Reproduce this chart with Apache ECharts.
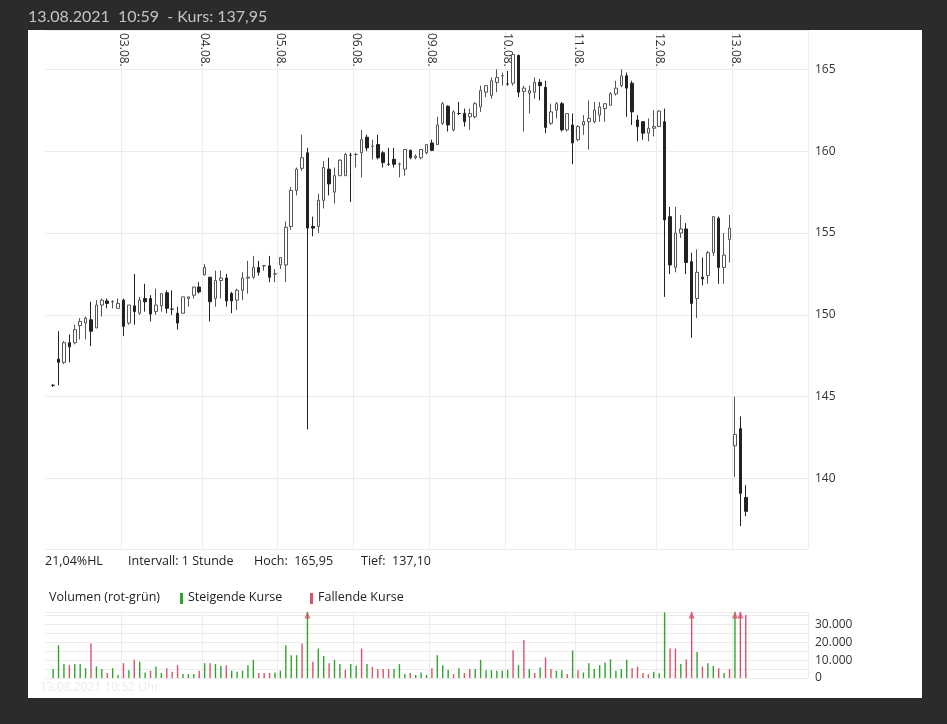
<!DOCTYPE html>
<html>
<head>
<meta charset="utf-8">
<script src="https://cdn.jsdelivr.net/npm/echarts@6/dist/echarts.min.js"></script>
<style>
  html, body { margin: 0; padding: 0; background: #2b2b2b; }
  #chart { width: 947px; height: 724px; }
</style>
</head>
<body>
<div id="chart"></div>
<script>
// Stundenkerzen [open, close, low, high], 02.08. – 13.08.2021
const candles = [
  [145.7,145.7,145.6,145.75],[147.3,147.1,145.7,149.0],[147.1,148.3,147.0,148.4],[148.3,148.05,147.1,148.8],
  [148.3,149.1,148.2,149.4],[149.35,149.6,148.5,149.8],[149.5,149.8,148.5,149.9],[149.7,149.0,148.1,150.8],
  [149.2,150.6,149.2,150.9],[150.6,150.9,149.9,151.0],[150.85,150.7,150.4,151.0],[150.8,150.8,150.4,150.9],
  [150.4,150.7,150.4,151.0],
  // 03.08.
  [150.9,149.3,148.7,151.0],[149.5,150.6,149.4,150.6],[150.55,150.2,149.4,152.5],[150.1,150.9,150.0,151.1],
  [151.0,150.8,150.2,151.9],[151.0,150.05,149.6,151.2],[150.2,150.6,150.0,151.6],[150.55,151.3,150.2,151.3],
  [151.35,150.4,150.1,151.5],[150.35,150.35,150.0,151.5],[150.1,149.5,149.1,150.5],[150.1,151.1,150.1,151.1],
  [151.0,151.1,150.5,151.1],[151.2,151.7,151.0,151.7],[151.7,151.4,151.3,152.0],
  // 04.08.
  [152.45,152.9,152.4,153.1],[152.3,150.8,149.6,152.3],[151.0,152.1,150.5,152.7],[152.1,152.25,151.0,152.7],
  [152.25,150.85,150.5,152.5],[151.3,150.85,150.1,151.4],[150.9,151.5,150.3,151.6],[151.5,152.25,150.9,152.6],
  [152.25,152.3,151.3,153.3],[152.3,152.9,152.2,153.6],[152.9,152.6,152.4,153.3],[153.0,153.0,152.7,153.05],
  [153.0,152.3,152.0,153.6],[152.5,152.5,152.0,152.8],
  // 05.08.
  [153.05,153.5,152.8,153.5],[153.05,155.35,152.0,155.7],[155.4,157.6,155.2,157.8],[157.6,158.9,157.3,159.0],
  [158.95,159.6,158.8,161.0],[159.9,155.3,143.0,160.2],[155.4,155.3,154.8,156.0],[155.4,157.0,155.0,157.4],
  [157.0,159.0,156.5,159.4],[158.9,158.0,157.3,159.6],[157.5,158.5,156.8,159.0],[158.5,159.45,158.5,159.5],
  [158.5,159.8,158.5,159.9],[159.75,159.75,156.9,159.9],
  // 06.08.
  [159.8,159.8,159.0,159.9],[159.9,160.7,158.4,161.3],[160.85,160.2,160.0,161.0],[160.3,160.3,159.5,160.7],
  [160.4,159.6,159.5,161.0],[159.9,159.3,159.0,160.0],[159.2,159.2,159.1,160.2],[159.5,159.2,159.0,160.2],
  [159.2,159.2,158.4,159.3],[158.9,160.1,158.5,160.1],[160.05,159.6,159.5,160.1],[159.6,159.7,159.5,159.8],
  [159.6,160.1,159.5,160.1],[159.9,160.4,159.8,160.4],
  // 09.08.
  [160.5,160.05,160.0,160.7],[160.4,161.6,160.4,162.1],[161.7,162.9,161.6,163.0],[162.75,161.6,161.2,162.8],
  [161.3,162.4,161.2,162.5],[162.3,162.3,162.2,163.0],[162.3,161.8,161.5,162.6],[162.1,162.3,161.3,162.6],
  [162.1,162.9,162.0,163.0],[162.7,163.7,162.4,164.0],[163.6,164.0,163.3,164.0],[163.4,164.3,163.2,164.5],
  [164.2,164.5,163.6,165.0],[164.6,164.6,164.0,164.8],
  // 10.08.
  [164.1,164.1,164.0,164.9],[164.15,165.9,164.0,165.95],[165.85,163.6,163.3,165.9],[163.65,163.85,161.2,164.0],
  [163.55,163.7,162.3,164.0],[163.6,164.2,163.2,164.5],[164.2,164.0,163.1,164.4],[163.9,161.45,161.1,164.3],
  [161.7,162.4,161.6,162.9],[162.5,162.9,162.0,163.0],[162.9,161.3,161.2,163.0],[161.3,162.3,161.2,162.3],
  [161.6,160.5,159.2,162.3],
  // 11.08.
  [160.7,161.5,160.6,161.6],[161.6,161.8,161.0,162.2],[161.8,162.0,160.1,163.1],[161.8,162.5,161.7,163.0],
  [162.2,162.7,161.8,163.0],[162.6,162.9,161.8,162.9],[162.8,163.5,162.8,163.6],[163.5,163.85,163.4,164.3],
  [164.0,164.6,163.9,165.0],[164.6,163.85,162.1,164.8],[164.15,162.4,161.6,164.3],[161.9,161.5,160.6,162.2],
  [161.8,161.1,160.7,161.8],[161.1,161.4,160.6,162.0],[161.4,161.5,160.9,162.5],
  // 12.08.
  [161.5,162.45,161.5,162.5],[161.8,155.8,151.1,162.6],[156.0,153.05,152.5,156.6],[152.9,155.0,152.6,156.6],
  [155.0,155.25,154.7,156.1],[155.25,153.2,152.5,155.6],[153.25,150.7,148.6,153.8],[151.0,152.6,149.8,154.0],
  [152.3,152.2,151.8,153.5],[152.4,153.8,151.9,153.9],[153.8,156.0,153.6,156.0],[155.9,152.9,151.9,156.0],
  [152.9,153.65,151.9,155.0],[154.6,155.3,153.2,156.1],
  // 13.08.
  [142.0,142.7,140.1,145.0],[143.05,139.1,137.1,143.8],[138.85,138.0,137.7,139.6]
];

const volumes = [
  5000,18300,7800,7200,7800,7800,5500,19400,6500,5000,
  2800,5500,1700,8300,4400,10200,9100,3100,4100,6500,
  2800,5400,3500,7200,2200,2200,2200,4100,8300,8300,
  7800,6800,7200,4100,3500,4100,7200,10200,2800,2800,
  2800,3100,4100,18300,12800,12800,19400,45000,9100,16500,
  12400,8300,10200,7800,4600,7800,6800,16500,7800,6300,
  5000,5000,5000,5000,7800,2200,2800,1700,3100,1700,
  5400,12800,7200,4600,2200,5400,2800,5000,5000,
  10200,4400,4400,4100,4100,4600,15500,7200,21300,5000,
  2800,5900,11500,5000,4100,4400,2200,15500,4400,3100,
  8300,5000,7200,8700,10500,4100,5000,10200,5500,6300,
  2800,2200,3500,2600,36800,16500,16500,7800,10500,45000,
  14600,6500,8300,6800,5500,2800,5000,50000,50000,35500
];
// g = steigend, r = fallend
const volumeDir = (
  'ggg rgggrgg rggrgrggrg grrrgggrgr ggrggggg rrrgggggrgrg grggrgg rgrrrrgggrgggr gggrgrrgg' +
  'gggggrgrgr grrggrgrgg gggggggrrr rgggrrgrrg rggrgrg rrr'
).replace(/ /g, '').split('');

const dayLabels = ['03.08.', '04.08.', '05.08.', '06.08.', '09.08.', '10.08.', '11.08.', '12.08.', '13.08.'];
const dayStarts = [13, 28, 42, 56, 70, 84, 97, 112, 126];

const PAD_LEFT = 1;
const PAD_RIGHT = 11;
const VOL_MAX = 37000;

const chart = echarts.init(document.getElementById('chart'));

const slots = PAD_LEFT + candles.length + PAD_RIGHT;
const categories = [];
const labelByIndex = {};
for (let i = 0; i < slots; i++) categories.push(String(i));
dayStarts.forEach((d, k) => { labelByIndex[d + PAD_LEFT] = dayLabels[k]; });

const pad = arr => Array(PAD_LEFT).fill('-').concat(arr, Array(PAD_RIGHT).fill('-'));
const isDay = idx => labelByIndex[idx] !== undefined;

const volData = volumes.map((v, i) => ({
  value: Math.min(v, VOL_MAX),
  itemStyle: { color: volumeDir[i] === 'r' ? '#d9546a' : '#2fa52f' }
}));
const arrowData = volumes.map(v => (v > VOL_MAX ? VOL_MAX : '-'));

const font = '"Open Sans", "Noto Sans", sans-serif';

const option = {
  backgroundColor: '#2b2b2b',
  animation: false,
  graphic: [
    { type: 'rect', z: -10, shape: { x: 28, y: 30, width: 894, height: 668 }, style: { fill: '#ffffff' } },
    { type: 'text', left: 28, top: 9, style: { text: '13.08.2021  10:59  - Kurs: 137,95', fill: '#c4c4c4', font: '16px Lato, "Open Sans", sans-serif' } },
    { type: 'text', left: 45, top: 555, style: { text: '21,04%HL', fill: '#222', font: '12.5px ' + font } },
    { type: 'text', left: 128, top: 555, style: { text: 'Intervall: 1 Stunde', fill: '#222', font: '12.5px ' + font } },
    { type: 'text', left: 254, top: 555, style: { text: 'Hoch:  165,95', fill: '#222', font: '12.5px ' + font } },
    { type: 'text', left: 361, top: 555, style: { text: 'Tief:  137,10', fill: '#222', font: '12.5px ' + font } },
    { type: 'text', left: 49, top: 591, style: { text: 'Volumen (rot-grün)', fill: '#222', font: '12.5px ' + font } },
    { type: 'rect', shape: { x: 180, y: 593, width: 3, height: 11 }, style: { fill: '#2fa52f' } },
    { type: 'text', left: 188, top: 591, style: { text: 'Steigende Kurse', fill: '#222', font: '12.5px ' + font } },
    { type: 'rect', shape: { x: 310, y: 593, width: 3, height: 11 }, style: { fill: '#d9546a' } },
    { type: 'text', left: 318, top: 591, style: { text: 'Fallende Kurse', fill: '#222', font: '12.5px ' + font } },
    { type: 'text', left: 40, top: 682, z: -5, style: { text: '13.08.2021 10:52 Uhr', fill: '#ececec', font: '12px ' + font } }
  ],
  grid: [
    { left: 45, right: 139, top: 30, bottom: 175 },
    { left: 45, right: 139, top: 612, bottom: 46 }
  ],
  xAxis: [
    {
      type: 'category', gridIndex: 0, data: categories, position: 'top',
      axisLine: { show: false }, axisTick: { show: false },
      axisLabel: {
        inside: true, rotate: 90, interval: (idx) => isDay(idx),
        formatter: (v) => labelByIndex[+v] || '',
        color: '#333', fontSize: 12, fontFamily: font, margin: 3
      },
      splitLine: { show: true, interval: (idx) => isDay(idx), lineStyle: { color: '#ececec' } }
    },
    {
      type: 'category', gridIndex: 1, data: categories,
      axisLine: { show: false }, axisTick: { show: false }, axisLabel: { show: false },
      splitLine: { show: true, interval: (idx) => isDay(idx), lineStyle: { color: '#ececec' } }
    }
  ],
  yAxis: [
    {
      type: 'value', gridIndex: 0, position: 'right', min: 135.7, max: 167.4, splitNumber: 6,
      axisLine: { show: false }, axisTick: { show: false },
      axisLabel: { color: '#333', fontSize: 12, fontFamily: font, margin: 7, showMinLabel: false, showMaxLabel: false },
      splitLine: { lineStyle: { color: '#ececec' } }
    },
    {
      type: 'value', gridIndex: 1, position: 'right', min: 0, max: VOL_MAX, interval: 5000,
      axisLine: { show: false }, axisTick: { show: false },
      axisLabel: {
        color: '#333', fontSize: 12, fontFamily: font, margin: 7, showMaxLabel: false,
        formatter: (v) => (v % 10000 === 0 ? (v === 0 ? '0' : (v / 1000) + '.000') : '')
      },
      splitLine: { lineStyle: { color: '#ececec' } }
    }
  ],
  series: [
    {
      type: 'candlestick', xAxisIndex: 0, yAxisIndex: 0,
      data: pad(candles),
      barWidth: 3,
      itemStyle: { color: '#ffffff', color0: '#222222', borderColor: '#555555', borderColor0: '#222222', borderWidth: 1 }
    },
    {
      type: 'bar', xAxisIndex: 1, yAxisIndex: 1,
      data: pad(volData), barWidth: 1.4
    },
    {
      type: 'scatter', xAxisIndex: 1, yAxisIndex: 1,
      data: pad(arrowData), symbol: 'triangle', symbolSize: [6, 7], symbolOffset: [0, 3],
      itemStyle: { color: '#d9546a' }
    }
  ]
};

chart.setOption(option);
window.addEventListener('resize', () => chart.resize());
</script>
</body>
</html>
